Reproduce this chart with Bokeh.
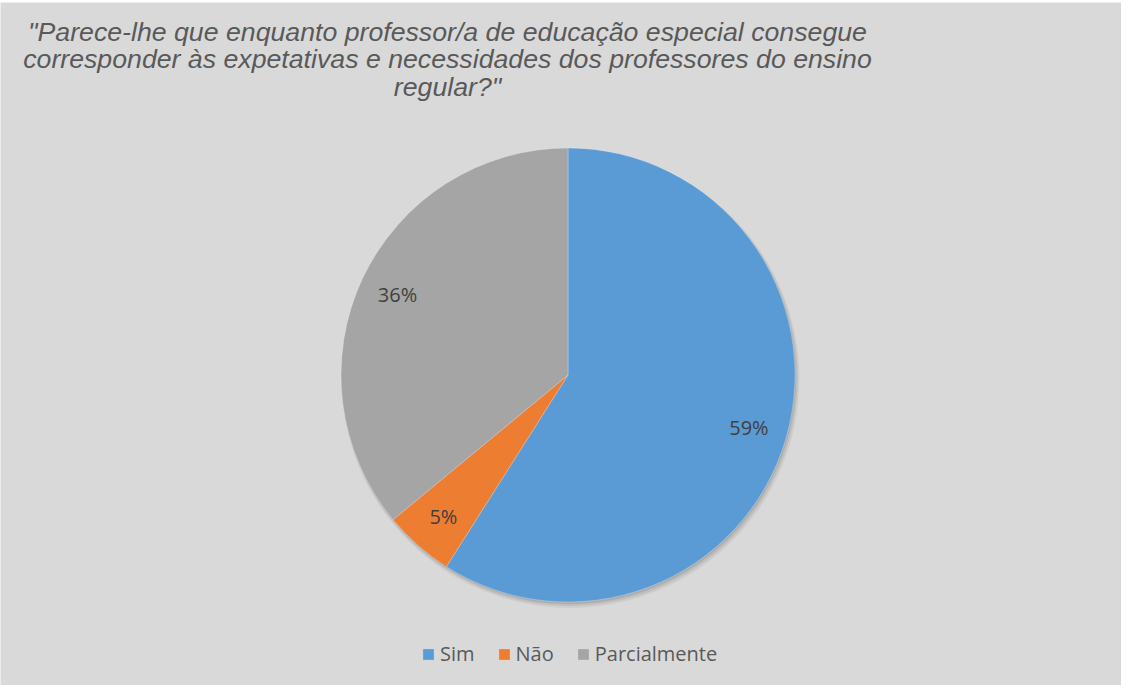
import math
from bokeh.plotting import figure
from bokeh.models import ColumnDataSource, Range1d, Legend, LegendItem, Spacer
from bokeh.layouts import column
from bokeh.core.properties import value
from bokeh.embed import file_html
from bokeh.resources import INLINE

# ---- data ----
categories = ["Sim", "Não", "Parcialmente"]
percentages = [59, 5, 36]
colors = ["#5B9BD5", "#ED7D31", "#A5A5A5"]
title_lines = [
    "\"Parece-lhe que enquanto professor/a de educação especial consegue",
    "corresponder às expetativas e necessidades dos professores do ensino",
    "regular?\"",
]

W, H = 1121, 683
BG = "#D9D9D9"
CX, CY, R = 567.5, 310.5, 227.0

p = figure(width=W, height=H, x_range=Range1d(0, W), y_range=Range1d(0, H),
           output_backend="svg", toolbar_location=None,
           x_axis_location=None, y_axis_location=None,
           min_border=0, min_border_left=0, min_border_right=0,
           min_border_top=0, min_border_bottom=0,
           background_fill_color=BG, border_fill_color=BG,
           outline_line_color=None)
p.grid.visible = False

# angles (clockwise from 12 o'clock)
total = float(sum(percentages))
starts, ends, lx, ly, labels = [], [], [], [], []
acc = 0.0
for v in percentages:
    a0 = math.pi / 2 - 2 * math.pi * acc / total
    acc += v
    a1 = math.pi / 2 - 2 * math.pi * acc / total
    starts.append(a0)
    ends.append(a1)
    mid = (a0 + a1) / 2
    lx.append(CX + 0.83 * R * math.cos(mid))
    ly.append(CY + 0.83 * R * math.sin(mid))
    labels.append(f"{v}%")

src = ColumnDataSource(dict(cat=categories, start=starts, end=ends, color=colors,
                            lx=lx, ly=ly, lab=labels))

# soft shadow
for off, rad, alpha in [(4, R + 2, 0.05), (3, R + 1, 0.07), (2, R, 0.09)]:
    p.circle(x=[CX + off * 0.6], y=[CY - off], radius=rad, fill_color="black",
             fill_alpha=alpha, line_color=None)

r = p.wedge(x=CX, y=CY, radius=R, start_angle="start", end_angle="end",
            direction="clock", fill_color="color", line_color="#FFFFFF",
            line_alpha=0.35, line_width=0.7, source=src)

p.text(x="lx", y="ly", text="lab", source=src, text_align="center",
       text_baseline="middle", text_font=value("Open Sans"),
       text_font_size="20px", text_color="#404040")

# title
tx = [447.0] * len(title_lines)
ty = [654.0 - 27.5 * i for i in range(len(title_lines))]
p.text(x=tx, y=ty, text=title_lines, text_align="center",
       text_baseline="alphabetic", text_font=value("Liberation Sans"),
       text_font_style="italic", text_font_size="26.7px", text_color="#595959")

items = [LegendItem(label=c, renderers=[r], index=i) for i, c in enumerate(categories)]
legend = Legend(items=items, location=(421, 18), orientation="horizontal",
                glyph_width=14, glyph_height=14, label_standoff=5, spacing=22,
                padding=0, margin=0, border_line_color=None,
                background_fill_alpha=0.0,
                label_text_font="Open Sans", label_text_font_size="20px",
                label_text_color="#595959")
p.add_layout(legend, "center")

layout = column(Spacer(width=W, height=2), p, spacing=0)
open("out.html", "w").write(file_html(layout, INLINE))
